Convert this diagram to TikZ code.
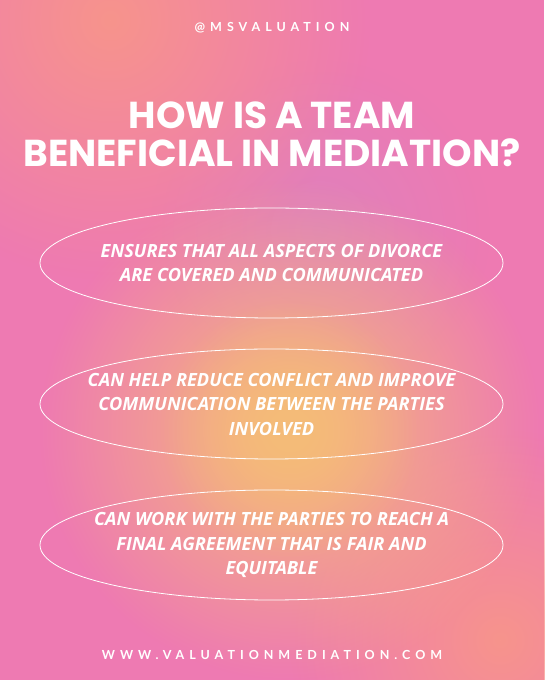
\documentclass[tikz,border=0pt]{standalone}
\usepackage{fontspec}
\setmainfont{Open Sans}
\newfontfamily\headfont{Poppins}[UprightFont=* Bold]
\newfontfamily\spacedfont{Lato}[LetterSpace=40]
\usetikzlibrary{fadings}
\definecolor{bgpink}{HTML}{EE7AB2}
\definecolor{bgsalmon}{HTML}{F7948C}
\definecolor{bgorange}{HTML}{F5BC78}
\definecolor{bgmauve}{HTML}{D984C2}
\tikzfading[name=softspot, inner color=transparent!0, outer color=transparent!100]
\tikzset{
  pointtext/.style={align=center, text=white, inner sep=0pt,
    font=\bfseries\itshape\fontsize{18.2}{24.5}\selectfont},
  oval/.style={draw=white, line width=0.8pt},
  tagline/.style={text=white, font=\spacedfont\bfseries\fontsize{12.5}{14}\selectfont}
}
\begin{document}
\begin{tikzpicture}[x=1pt,y=1pt]
			\useasboundingbox (0,0) rectangle (544,680);
			% background
			\fill[bgpink] (0,0) rectangle (544,680);
			\fill[bgmauve, path fading=softspot, opacity=0.7] (320,450) circle (170);
			\fill[bgsalmon, path fading=softspot] (110,660) circle (260);
			\fill[bgsalmon, path fading=softspot] (500,40) circle (210);
			\fill[bgorange, path fading=softspot] (290,250) circle (250);
			\fill[bgorange, path fading=softspot] (290,250) circle (130);
			% texts
			\node[tagline] (handle) at (272,652) {@MSVALUATION};
			\node[text=white, align=center, font=\headfont\fontsize{37.5}{38}\selectfont] (title) at (272,546)
				{HOW IS A TEAM\\BENEFICIAL IN MEDIATION?};
			\node[pointtext] (covered) at (271.5,417)
				{ENSURES THAT ALL ASPECTS OF DIVORCE\\ARE COVERED AND COMMUNICATED};
			\node[pointtext] (conflict) at (271.5,276)
				{CAN HELP REDUCE CONFLICT AND IMPROVE\\COMMUNICATION BETWEEN THE PARTIES\\INVOLVED};
			\node[pointtext] (agreement) at (271.5,135)
				{CAN WORK WITH THE PARTIES TO REACH A\\FINAL AGREEMENT THAT IS FAIR AND\\EQUITABLE};
			\node[tagline] (website) at (272,25) {WWW.VALUATIONMEDIATION.COM};
			% ovals
			\draw[oval] (covered.center) ellipse (231.5 and 55);
			\draw[oval] (conflict.center) ellipse (231.5 and 55);
			\draw[oval] (agreement.center) ellipse (231.5 and 55);
		\end{tikzpicture}
\end{document}
